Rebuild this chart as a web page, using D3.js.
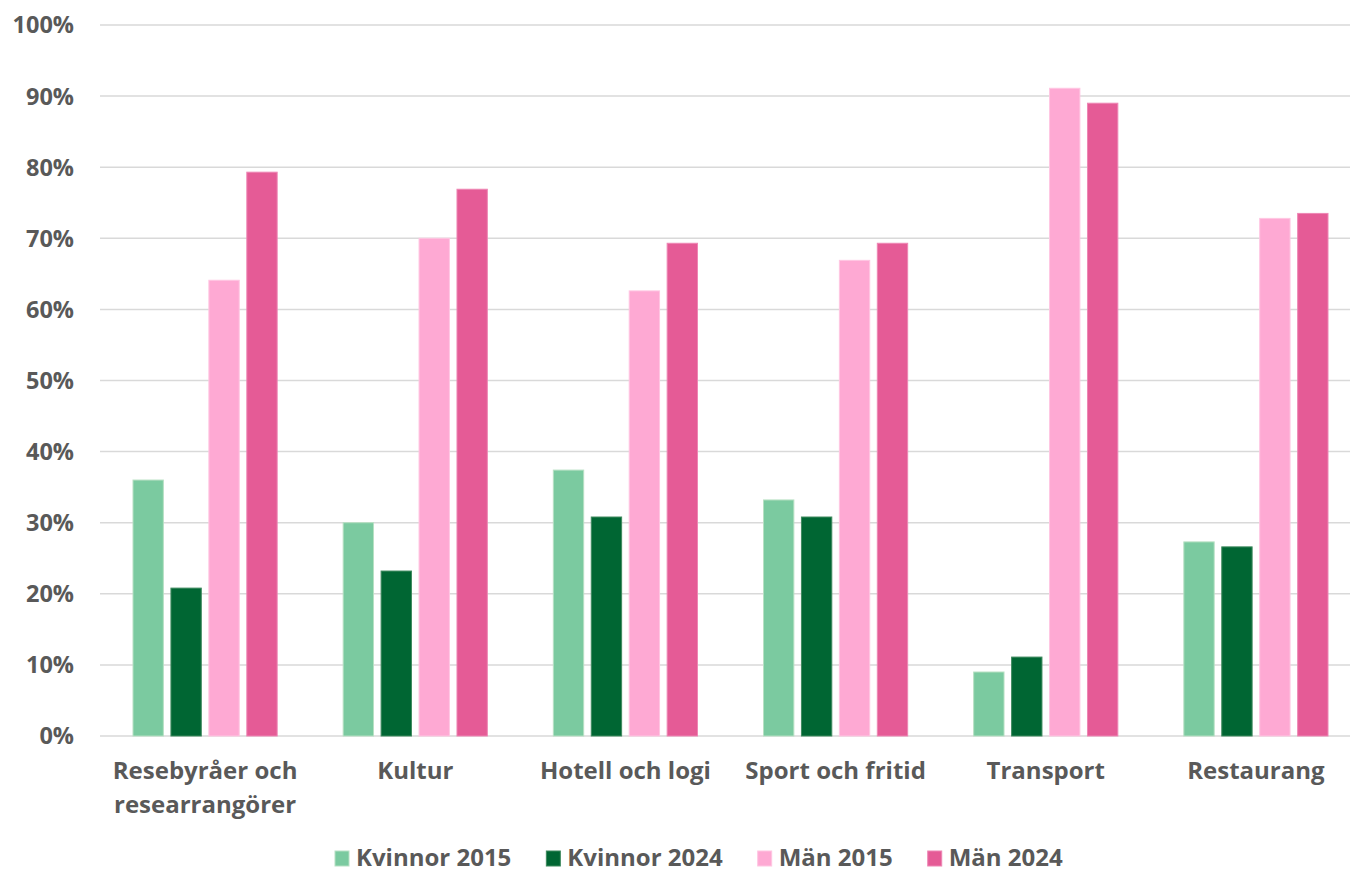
<!DOCTYPE html>
<html>
<head>
<meta charset="utf-8">
<script src="https://cdn.jsdelivr.net/npm/d3@7"></script>
<style>
  html, body { margin: 0; padding: 0; background: #fff; }
  svg { display: block; font-family: "Open Sans", sans-serif; }
</style>
</head>
<body>
<svg width="1350" height="870"></svg>
<script>
// Chart data
var categories = [
    ['Resebyråer och', 'researrangörer'],
    ['Kultur'],
    ['Hotell och logi'],
    ['Sport och fritid'],
    ['Transport'],
    ['Restaurang']
];
var seriesNames = ['Kvinnor 2015', 'Kvinnor 2024', 'Män 2015', 'Män 2024'];
var kvinnor2015 = [36.0, 30.0, 37.4, 33.2, 9.0, 27.3];
var kvinnor2024 = [20.8, 23.2, 30.8, 30.8, 11.1, 26.6];
var man2015 = [64.1, 70.0, 62.6, 66.9, 91.1, 72.8];
var man2024 = [79.3, 76.9, 69.3, 69.3, 89.0, 73.5];
var yTicks = [0, 10, 20, 30, 40, 50, 60, 70, 80, 90, 100];

var seriesValues = [kvinnor2015, kvinnor2024, man2015, man2024];
var fills = ['#7bcaa0', '#006633', '#fea9d3', '#e55b96'];
var strokes = ['#b7e0c3', '#3f8a5f', '#ffc6e2', '#ee86b4'];

var svg = d3.select('svg');
var labelColor = '#595959';

// Scales
var catKeys = categories.map(function (c, i) { return i; });
var x0 = d3.scaleBand().domain(catKeys).range([100, 1361]).paddingInner(0).paddingOuter(0);
var x1 = d3.scaleBand().domain(d3.range(seriesNames.length))
    .range([33, x0.bandwidth() - 33]).paddingInner(0.2);
var y = d3.scaleLinear().domain([0, 100]).range([736, 25]);

// Gridlines
svg.append('g')
    .selectAll('line')
    .data(yTicks)
    .enter()
    .append('line')
    .attr('x1', 100)
    .attr('x2', 1350)
    .attr('y1', function (d) { return y(d); })
    .attr('y2', function (d) { return y(d); })
    .attr('stroke', '#d9d9d9')
    .attr('stroke-width', 1.5);

// Y labels
svg.append('g')
    .selectAll('text')
    .data(yTicks)
    .enter()
    .append('text')
    .attr('x', 74)
    .attr('y', function (d) { return y(d); })
    .attr('dy', '0.36em')
    .attr('text-anchor', 'end')
    .attr('font-size', 23.5)
    .attr('font-weight', 700)
    .attr('fill', labelColor)
    .text(function (d) { return d + '%'; });

// Bars
seriesValues.forEach(function (values, s) {
    svg.append('g')
        .selectAll('rect')
        .data(values)
        .enter()
        .append('rect')
        .attr('x', function (d, i) { return x0(i) + x1(s); })
        .attr('y', function (d) { return y(d); })
        .attr('width', x1.bandwidth())
        .attr('height', function (d) { return y(0) - y(d); })
        .attr('fill', fills[s])
        .attr('stroke', strokes[s])
        .attr('stroke-width', 1);
});

// X labels
categories.forEach(function (lines, i) {
    var t = svg.append('text')
        .attr('text-anchor', 'middle')
        .attr('font-size', 24)
        .attr('font-weight', 700)
        .attr('fill', labelColor);
    lines.forEach(function (line, j) {
        t.append('tspan')
            .attr('x', x0(i) + x0.bandwidth() / 2)
            .attr('y', 779 + j * 33.5)
            .text(line);
    });
});

// Legend, items laid out one after another
var legend = svg.append('g');
var lx = 335;
seriesNames.forEach(function (name, s) {
    legend.append('rect')
        .attr('x', lx)
        .attr('y', 851)
        .attr('width', 14)
        .attr('height', 15)
        .attr('fill', fills[s])
        .attr('stroke', strokes[s])
        .attr('stroke-width', 1);
    var txt = legend.append('text')
        .attr('x', lx + 21)
        .attr('y', 866)
        .attr('font-size', 24)
        .attr('font-weight', 700)
        .attr('fill', labelColor)
        .text(name);
    lx += 21 + txt.node().getComputedTextLength() + 35;
});
</script>
</body>
</html>
